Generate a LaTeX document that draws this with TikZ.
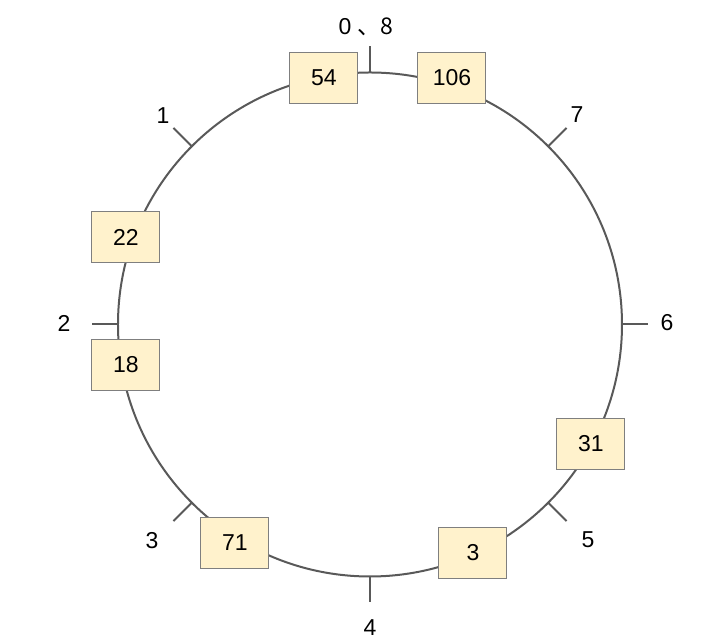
\documentclass[tikz,border=0pt]{standalone}
\usepackage{fontspec}
\setmainfont{Liberation Sans}
\newfontfamily\cjk{Noto Sans CJK SC}
\usepackage{xcolor}
\usepackage{tikz}
\usetikzlibrary{positioning}
\definecolor{ringgray}{HTML}{595959}
\definecolor{boxline}{HTML}{7F7F7F}
\definecolor{boxfill}{HTML}{FFF2CC}

\begin{document}
\begin{tikzpicture}[
  x=0.5pt, y=0.5pt,
  ring/.style={draw=ringgray, line width=1pt},
  notch/.style={draw=ringgray, line width=1pt},
  slot/.style={draw=boxline, fill=boxfill, line width=0.5pt, minimum width=34pt, minimum height=25.5pt, inner sep=0pt, font=\fontsize{11.5}{13}\selectfont},
  lbl/.style={inner sep=0pt, font=\fontsize{11.5}{13}\selectfont}
]
\useasboundingbox (-370,-316.5) rectangle (344,324.5);
\node[coordinate] (c) at (0,0) {};
\draw[ring] (c) circle (252);
% ticks on the ring
\foreach \a/\n in {90/t0,135/t1,180/t2,225/t3,270/t4,315/t5,0/t6,45/t7}{
  \coordinate (\n in) at (\a:252);
  \coordinate (\n out) at (\a:278);
  \draw[notch] (\n in) -- (\n out);
}
% labels
\node[lbl] (l0) at (-4,297.5) {0 \cjk{、}8};
\node[lbl] (l1) at (-207,208.5) {1};
\node[lbl] (l2) at (-306,1.5) {2};
\node[lbl] (l3) at (-218,-216.5) {3};
\node[lbl] (l4) at (0,-303.5) {4};
\node[lbl] (l5) at (218,-215.5) {5};
\node[lbl] (l6) at (297,1.5) {6};
\node[lbl] (l7) at (207,209.5) {7};
% values
\node[slot] (v54) at (-46,246.5) {54};
\node[slot] (v106) at (82,246.5) {106};
\node[slot] (v22) at (-244,87.5) {22};
\node[slot] (v18) at (-244,-40.5) {18};
\node[slot] (v31) at (221,-119.5) {31};
\node[slot] (v3) at (103,-228.5) {3};
\node[slot] (v71) at (-135,-218.5) {71};
\end{tikzpicture}
\end{document}
